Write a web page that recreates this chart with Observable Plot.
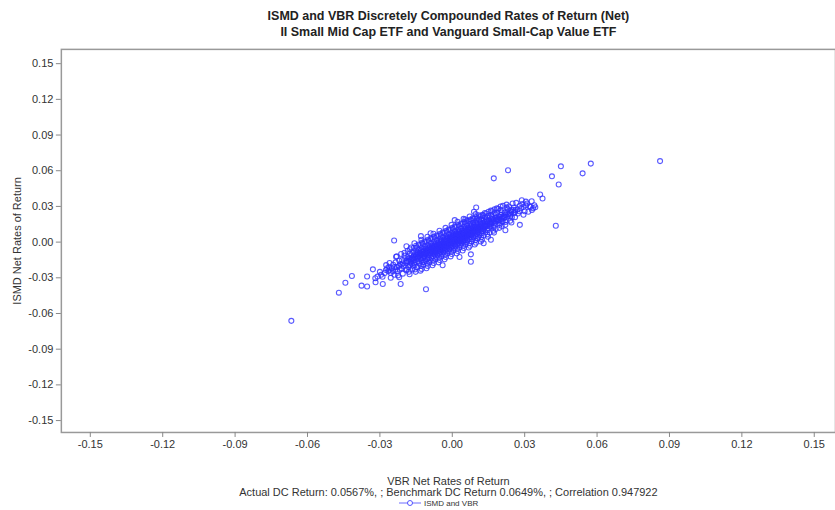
<!DOCTYPE html>
<html>
<head>
<meta charset="utf-8">
<script src="https://cdn.jsdelivr.net/npm/d3@7"></script>
<script src="https://cdn.jsdelivr.net/npm/@observablehq/plot@0.6"></script>
<style>
html, body { margin: 0; padding: 0; background: #fff; overflow: hidden; }
#wrap { position: relative; width: 835px; height: 510px; overflow: hidden; }
#legend { position: absolute; left: 399px; top: 497px; height: 12px; display: flex; align-items: center;
  font-family: "Liberation Sans", Arial, sans-serif; font-size: 8px; color: #333; }
#legend span { margin-left: 3px; }
</style>
</head>
<body>
<div id="wrap"></div>
<script>
// Title / labels
const title1 = "ISMD and VBR Discretely Compounded Rates of Return (Net)";
const title2 = "II Small Mid Cap ETF and Vanguard Small-Cap Value ETF";
const xLabel = "VBR Net Rates of Return";
const yLabel = "ISMD Net Rates of Return";
const caption = "Actual DC Return: 0.0567%, ; Benchmark DC Return 0.0649%, ; Correlation 0.947922";
const seriesName = "ISMD and VBR";
const tickValues = [-0.15, -0.12, -0.09, -0.06, -0.03, 0, 0.03, 0.06, 0.09, 0.12, 0.15];

// Daily returns in percent: [VBR, ISMD]
const outliers = [[-6.67,-6.62],[8.61,6.81],[5.74,6.60],[4.50,6.37],[4.13,5.53],[4.41,4.84],[5.40,5.78],
  [2.31,6.04],[1.72,5.36],[3.64,4.00],[3.74,3.66],[3.29,3.44],[3.44,2.93],[4.29,1.38],[2.80,1.45],
  [2.88,3.52],[0.99,2.91],[0.54,1.90],[-2.41,0.14],[0.77,-1.03],[0.77,-1.65],[-1.09,-3.96]];
const lowTail = [[-4.70,-4.25],[-4.43,-3.41],[-4.16,-2.85],[-3.76,-3.66],[-3.53,-3.73],[-3.53,-2.89],
  [-3.29,-2.29],[-3.18,-3.38],[-3.19,-3.04],[-2.88,-3.52],[-2.14,-3.52],[-2.33,-1.23],[-2.74,-1.93],
  [-2.89,-2.91],[-2.7,-2.2],[-2.8,-2.6],[-2.65,-2.45],[-3.0,-2.5],[-2.95,-2.75],[-2.6,-1.75],
  [-3.1,-2.9],[-2.55,-3.0],[-2.75,-2.35],[-2.62,-2.1]];
const highTail = [[3.2,3.0],[3.3,2.7],[3.1,3.25],[3.25,2.95],[3.15,2.55],[3.4,3.1],[2.95,2.3],
  [3.05,3.4],[3.35,2.85],[2.9,3.2]];
const coreLow = [
  [-2.55,-2.6],[-2.45,-1.9],[-2.6,-2.35],[-2.4,-2.75],
  [-2.3,-2.1],[-2.2,-1.55],[-2.28,-2.45],[-2.15,-1.85],[-2.35,-1.7],[-2.18,-2.3],
  [-2.05,-1.8],[-1.95,-1.35],[-2.1,-2.2],[-1.9,-1.6],[-2.02,-2.0],[-1.98,-1.15],[-2.08,-1.5],[-1.92,-2.35],
  [-1.8,-1.6],[-1.7,-1.1],[-1.78,-1.95],[-1.72,-1.45],[-1.85,-1.25],[-1.68,-1.8],[-1.76,-0.95],[-1.82,-2.1],[-1.7,-1.35],[-1.74,-1.65],
  [-1.55,-1.3],[-1.45,-0.85],[-1.52,-1.7],[-1.48,-1.1],[-1.58,-1.5],[-1.42,-1.25],[-1.5,-0.7],[-1.56,-1.9],[-1.46,-1.4],[-1.53,-1.0],[-1.44,-1.6],[-1.6,-1.15],
  [-1.3,-1.05],[-1.2,-0.6],[-1.28,-1.5],[-1.22,-0.85],[-1.33,-1.25],[-1.18,-1.0],[-1.26,-0.45],[-1.24,-1.7],[-1.35,-0.9],[-1.16,-1.2],[-1.29,-0.7],[-1.21,-1.35],[-1.27,-1.1],[-1.19,-0.8],
  [-1.05,-0.8],[-0.95,-0.4],[-1.02,-1.25],[-0.98,-0.65],[-1.08,-1.0],[-0.92,-0.75],[-1.0,-0.25],[-1.04,-1.45],[-0.96,-0.9],[-1.1,-0.55],[-0.94,-1.1],[-1.06,-0.7],[-0.99,-1.35],[-1.01,-0.5],[-0.93,-0.95],[-1.07,-0.85]];
const coreMid = [
  [-0.8,-0.6],[-0.7,-0.15],[-0.78,-1.0],[-0.72,-0.4],[-0.83,-0.8],[-0.68,-0.55],[-0.75,0.05],[-0.79,-1.2],[-0.71,-0.7],[-0.85,-0.3],[-0.69,-0.9],[-0.81,-0.45],[-0.74,-1.05],[-0.76,-0.25],[-0.67,-0.65],[-0.84,-0.75],[-0.73,-0.35],[-0.77,-0.85],
  [-0.55,-0.35],[-0.45,0.1],[-0.52,-0.8],[-0.48,-0.15],[-0.58,-0.55],[-0.42,-0.3],[-0.5,0.3],[-0.54,-1.0],[-0.46,-0.45],[-0.6,-0.05],[-0.44,-0.65],[-0.56,-0.2],[-0.49,-0.85],[-0.51,0.0],[-0.43,-0.4],[-0.59,-0.5],[-0.47,0.15],[-0.53,-0.6],[-0.41,-0.1],[-0.57,-0.75],
  [-0.3,-0.1],[-0.2,0.35],[-0.28,-0.55],[-0.22,0.1],[-0.33,-0.3],[-0.18,-0.05],[-0.25,0.55],[-0.29,-0.75],[-0.21,-0.2],[-0.35,0.2],[-0.19,-0.4],[-0.31,0.05],[-0.24,-0.6],[-0.26,0.25],[-0.17,-0.15],[-0.34,-0.25],[-0.23,0.4],[-0.27,-0.35],[-0.16,0.15],[-0.32,-0.5],
  [-0.05,0.15],[0.05,0.6],[-0.03,-0.3],[0.03,0.35],[-0.08,-0.05],[0.07,0.2],[0.0,0.8],[-0.04,-0.5],[0.04,0.05],[-0.1,0.45],[0.06,-0.15],[-0.06,0.3],[0.01,-0.35],[-0.01,0.5],[0.08,0.1],[-0.09,0.0],[0.02,0.65],[-0.02,-0.1],[0.09,0.4],[-0.07,-0.25],
  [0.2,0.4],[0.3,0.85],[0.22,-0.05],[0.28,0.6],[0.17,0.2],[0.32,0.45],[0.25,1.05],[0.21,-0.25],[0.29,0.3],[0.15,0.7],[0.31,0.1],[0.19,0.55],[0.26,-0.1],[0.24,0.75],[0.33,0.35],[0.16,0.25],[0.27,0.9],[0.23,0.15],[0.34,0.65],[0.18,0.0],
  [0.45,0.65],[0.55,1.1],[0.47,0.15],[0.53,0.85],[0.42,0.45],[0.57,0.7],[0.5,1.3],[0.46,0.0],[0.54,0.55],[0.4,0.95],[0.56,0.35],[0.44,0.8],[0.51,0.15],[0.49,1.0],[0.58,0.6],[0.41,0.5],[0.52,1.15],[0.48,0.4],[0.59,0.9],[0.43,0.25]];
const coreHigh = [
  [0.7,0.9],[0.8,1.35],[0.72,0.4],[0.78,1.1],[0.67,0.7],[0.82,0.95],[0.75,1.55],[0.71,0.25],[0.79,0.8],[0.65,1.2],[0.81,0.6],[0.69,1.05],[0.76,0.45],[0.74,1.25],[0.83,0.85],[0.66,0.75],[0.77,1.4],[0.73,0.65],
  [0.95,1.1],[1.05,1.55],[0.97,0.65],[1.03,1.3],[0.92,0.9],[1.07,1.2],[1.0,1.8],[0.96,0.5],[1.04,1.0],[0.9,1.45],[1.06,0.8],[0.94,1.25],[1.01,0.7],[0.99,1.6],[1.08,1.05],[0.93,0.95],
  [1.2,1.35],[1.3,1.8],[1.22,0.9],[1.28,1.55],[1.17,1.15],[1.32,1.4],[1.25,2.0],[1.21,0.75],[1.29,1.25],[1.15,1.65],[1.31,1.05],[1.19,1.5],[1.26,0.95],[1.24,1.85],
  [1.45,1.6],[1.55,2.05],[1.47,1.15],[1.53,1.8],[1.42,1.4],[1.57,1.65],[1.5,2.2],[1.46,1.0],[1.54,1.5],[1.4,1.9],[1.56,1.3],[1.44,1.75],
  [1.7,1.85],[1.8,2.3],[1.72,1.4],[1.78,2.05],[1.67,1.65],[1.82,1.9],[1.75,2.45],[1.71,1.25],[1.79,1.75],[1.65,2.15],
  [1.95,2.1],[2.05,2.5],[1.97,1.6],[2.03,2.3],[1.92,1.85],[2.07,2.15],[2.0,2.7],[1.96,1.45],[2.04,1.95],
  [2.2,2.3],[2.3,2.75],[2.22,1.85],[2.28,2.5],[2.17,2.1],[2.32,2.35],[2.25,2.9],[2.21,1.7],
  [2.45,2.55],[2.55,2.9],[2.47,2.1],[2.53,2.7],[2.42,2.3],[2.57,2.45],
  [2.7,2.75],[2.8,3.05],[2.72,2.4],[2.78,2.6],[2.85,2.85],
  [2.95,2.95],[3.05,3.1],[3.0,2.6]];
const bandEdges = [
  [-2.12,-1.0],[-2.25,-2.8],[-2.05,-2.65],[-2.3,-1.2],[-1.98,-0.9],[-2.2,-2.95],
  [-1.75,-0.6],[-1.8,-2.5],[-1.65,-2.3],[-1.85,-0.75],[-1.7,-0.45],[-1.77,-2.7],[-1.62,-0.85],[-1.88,-2.3],
  [-1.5,-0.3],[-1.55,-2.3],[-1.45,-2.1],[-1.6,-0.5],[-1.4,-0.2],[-1.52,-2.5],[-1.38,-0.65],[-1.63,-2.0],[-1.47,-0.45],[-1.57,-0.1],
  [-1.25,-0.05],[-1.3,-2.0],[-1.2,-1.9],[-1.35,-0.25],[-1.15,0.05],[-1.27,-2.25],[-1.13,-0.35],[-1.37,-1.8],[-1.22,-0.15],[-1.32,-2.4],[-1.18,-1.65],[-1.28,0.2],
  [-1.0,0.2],[-1.05,-1.8],[-0.95,-1.7],[-1.1,0.0],[-0.9,0.3],[-1.02,-2.0],[-0.88,-0.1],[-1.12,-1.55],[-0.97,0.1],[-1.07,-2.2],[-0.93,-1.5],[-1.03,0.45],
  [-0.75,0.45],[-0.8,-1.55],[-0.7,-1.45],[-0.85,0.25],[-0.65,0.55],[-0.77,-1.75],[-0.63,0.15],[-0.87,-1.3],[-0.72,0.35],[-0.82,-1.95],[-0.68,-1.25],[-0.78,0.7],
  [-0.5,0.7],[-0.55,-1.3],[-0.45,-1.2],[-0.6,0.5],[-0.4,0.8],[-0.52,-1.5],[-0.38,0.4],[-0.62,-1.05],[-0.47,0.6],[-0.57,-1.7],[-0.43,-1.0],[-0.53,0.95],
  [-0.25,0.95],[-0.3,-1.05],[-0.2,-0.95],[-0.35,0.75],[-0.15,1.05],[-0.27,-1.25],[-0.13,0.65],[-0.37,-0.8],[-0.22,0.85],[-0.32,-1.45],[-0.18,-0.75],[-0.28,1.2],
  [0.0,1.2],[-0.05,-0.8],[0.05,-0.7],[-0.1,1.0],[0.1,1.3],[-0.02,-1.0],[0.12,0.9],[-0.12,-0.55],[0.03,1.1],[-0.07,-1.2],[0.07,-0.5],[-0.03,1.45],
  [0.25,1.45],[0.2,-0.55],[0.3,-0.45],[0.15,1.25],[0.35,1.55],[0.23,-0.75],[0.37,1.15],[0.13,-0.3],[0.28,1.35],[0.18,-0.95],[0.32,-0.25],[0.22,1.7],
  [0.5,1.7],[0.45,-0.3],[0.55,-0.2],[0.4,1.5],[0.6,1.8],[0.48,-0.5],[0.62,1.4],[0.38,-0.05],[0.53,1.6],[0.43,-0.7],[0.57,0.0],[0.47,1.95],
  [0.75,1.9],[0.7,-0.1],[0.8,0.05],[0.65,1.75],[0.85,2.0],[0.73,-0.3],[0.87,1.65],[0.63,0.15],[0.78,1.85],[0.68,-0.45],[0.82,0.25],[0.72,2.15],
  [1.0,2.1],[0.95,0.15],[1.05,0.3],[0.9,1.95],[1.1,2.25],[0.98,-0.05],[1.12,1.9],[0.88,0.4],[1.03,2.0],[0.93,-0.2],[1.07,0.45],[0.97,2.35],
  [1.25,2.3],[1.2,0.4],[1.3,0.55],[1.15,2.15],[1.35,2.45],[1.23,0.2],[1.37,2.1],[1.13,0.6],[1.28,2.25],[1.18,0.05],
  [1.5,2.55],[1.45,0.65],[1.55,0.8],[1.4,2.4],[1.6,2.65],[1.48,0.45],[1.62,2.3],[1.38,0.85],
  [1.75,2.75],[1.7,0.95],[1.8,1.1],[1.65,2.6],[1.85,2.85],[1.73,0.8],[1.87,2.5],
  [2.0,3.0],[1.95,1.2],[2.05,1.35],[1.9,2.8],[2.1,3.05],[2.08,1.7],
  [2.25,3.15],[2.2,1.45],[2.35,3.0],[2.4,1.8],[2.5,3.25],[2.6,2.1],[2.65,3.3],[2.45,1.65]];
const bandCentre = [
  [-1.9,-1.75],[-1.85,-1.6],[-1.62,-1.45],[-1.65,-1.35],[-1.4,-1.05],[-1.37,-1.2],[-1.33,-0.95],[-1.14,-0.95],[-1.12,-0.85],[-1.09,-0.95],
  [-0.9,-0.6],[-0.89,-0.8],[-0.87,-0.55],[-0.86,-0.65],[-0.66,-0.4],[-0.64,-0.5],[-0.63,-0.35],[-0.62,-0.6],[-0.4,-0.2],[-0.39,-0.35],
  [-0.38,-0.15],[-0.37,-0.25],[-0.36,-0.45],[-0.14,0.0],[-0.13,0.1],[-0.12,-0.1],[-0.11,0.2],[-0.15,0.05],[0.1,0.25],[0.11,0.15],
  [0.12,0.35],[0.13,0.3],[0.14,0.45],[0.35,0.5],[0.36,0.4],[0.37,0.55],[0.38,0.6],[0.39,0.45],[0.6,0.75],[0.61,0.65],
  [0.62,0.8],[0.63,0.7],[0.64,0.55],[0.85,0.95],[0.86,0.9],[0.87,1.0],[0.88,1.05],[0.89,0.8],[1.1,1.15],[1.11,1.25],
  [1.12,1.1],[1.13,1.3],[1.14,1.2],[1.35,1.35],[1.36,1.5],[1.37,1.4],[1.38,1.3],[1.6,1.6],[1.61,1.7],[1.62,1.55],
  [1.85,1.85],[1.86,1.95],[1.88,1.8],[2.1,2.05],[2.12,2.2],[2.35,2.3],[2.38,2.45],[2.6,2.55],[2.62,2.7],
  [-2.4,-2.1],[-2.35,-2.3],[-2.5,-2.2],[-2.45,-2.45],[-2.2,-2.0],[-2.1,-1.9]];
const bandFill = [
  [-1.8,-1.4],[-1.75,-1.9],[-1.6,-1.25],[-1.58,-1.75],[-1.45,-1.3],[-1.41,-0.9],[-1.3,-1.4],[-1.28,-0.85],[-1.2,-1.15],[-1.17,-0.7],
  [-1.05,-1.1],[-1.0,-0.6],[-0.95,-0.95],[-0.92,-0.5],[-0.82,-0.95],[-0.8,-0.4],[-0.74,-0.75],[-0.7,-0.3],[-0.65,-0.8],[-0.6,-0.25],
  [-0.55,-0.7],[-0.5,-0.15],[-0.46,-0.6],[-0.44,0.05],[-0.35,-0.55],[-0.33,0.1],[-0.28,-0.2],[-0.25,0.2],[-0.2,-0.35],[-0.18,0.3],
  [-0.1,-0.3],[-0.08,0.35],[-0.04,-0.05],[0.0,0.45],[0.02,0.0],[0.05,0.5],[0.08,-0.2],[0.1,0.6],[0.15,0.1],[0.18,0.75],
  [0.22,0.25],[0.25,0.7],[0.28,0.05],[0.3,0.65],[0.35,0.2],[0.4,0.7],[0.42,0.1],[0.45,0.95],[0.5,0.45],[0.52,0.9],
  [0.55,0.3],[0.6,1.05],[0.65,0.5],[0.68,1.15],[0.72,0.6],[0.75,1.1],[0.8,0.7],[0.82,1.25],[0.9,0.75],[0.92,1.3],
  [1.0,0.95],[1.02,1.45],[1.1,0.9],[1.15,1.4],[1.2,1.05],[1.25,1.6],[1.3,1.15],[1.35,1.7],[1.45,1.35],[1.5,1.85],
  [1.6,1.4],[1.65,1.95],[1.75,1.6],[1.8,2.05],[1.95,1.8],[2.0,2.3],[2.15,2.0],[2.2,2.5],[2.4,2.15],[2.45,2.7],
  [-0.9,0.75],[0.3,-1.25],[1.6,0.2],[-1.9,-0.35],[0.9,2.55],[-0.4,-1.95],[2.2,1.0],[-1.3,0.5],[0.1,1.85],[1.3,-0.1]];

const rows = [...coreLow, ...coreMid, ...coreHigh, ...bandEdges, ...bandCentre, ...bandFill, ...lowTail, ...highTail, ...outliers]
  .map(([v, i]) => ({vbr: v / 100, ismd: i / 100}));

const fmt = d => d.toFixed(2);
const blue = "#2f2fff";

const chart = Plot.plot({
  width: 837,
  height: 510,
  marginLeft: 61,
  marginRight: 0,
  marginTop: 49,
  marginBottom: 77,
  style: {fontFamily: "'Liberation Sans', Arial, sans-serif", fontSize: "11px", color: "#333", background: "#fff"},
  x: {domain: [-0.162, 0.1588]},
  y: {domain: [-0.160, 0.162]},
  marks: [
    Plot.frame({stroke: "#999", strokeWidth: 1.5}),
    Plot.axisX({ticks: tickValues, tickFormat: fmt, tickSize: 5, tickPadding: 3, stroke: "#888", fill: "#333", label: null, fontSize: 11}),
    Plot.axisY({ticks: tickValues, tickFormat: fmt, tickSize: 5, tickPadding: 3, stroke: "#888", fill: "#333", label: null, fontSize: 11}),
    Plot.dot(rows, {x: "vbr", y: "ismd", r: 2.5, stroke: blue, strokeOpacity: 0.8, strokeWidth: 1.1, fill: "none"}),
    Plot.text([title1], {frameAnchor: "top", dy: -33, lineAnchor: "middle", textAnchor: "middle", fontWeight: "bold", fontSize: 12.5, fill: "#222"}),
    Plot.text([title2], {frameAnchor: "top", dy: -17, lineAnchor: "middle", textAnchor: "middle", fontWeight: "bold", fontSize: 12.5, fill: "#222"}),
    Plot.text([yLabel], {frameAnchor: "left", rotate: -90, dx: -44, lineAnchor: "middle", textAnchor: "middle", fontSize: 11, fill: "#333"}),
    Plot.text([xLabel], {frameAnchor: "bottom", dy: 49, lineAnchor: "middle", textAnchor: "middle", fontSize: 11, fill: "#333"}),
    Plot.text([caption], {frameAnchor: "bottom", dy: 60, lineAnchor: "middle", textAnchor: "middle", fontSize: 11, fill: "#333"})
  ]
});
const wrap = document.getElementById("wrap");
wrap.appendChild(chart);

const legend = document.createElement("div");
legend.id = "legend";
legend.innerHTML = `<svg width="22" height="8"><line x1="0" y1="4" x2="22" y2="4" stroke="${blue}" stroke-opacity="0.7" stroke-width="1"/><circle cx="11" cy="4" r="2.5" fill="white" stroke="${blue}" stroke-opacity="0.8"/></svg><span>${seriesName}</span>`;
wrap.appendChild(legend);
</script>
</body>
</html>
